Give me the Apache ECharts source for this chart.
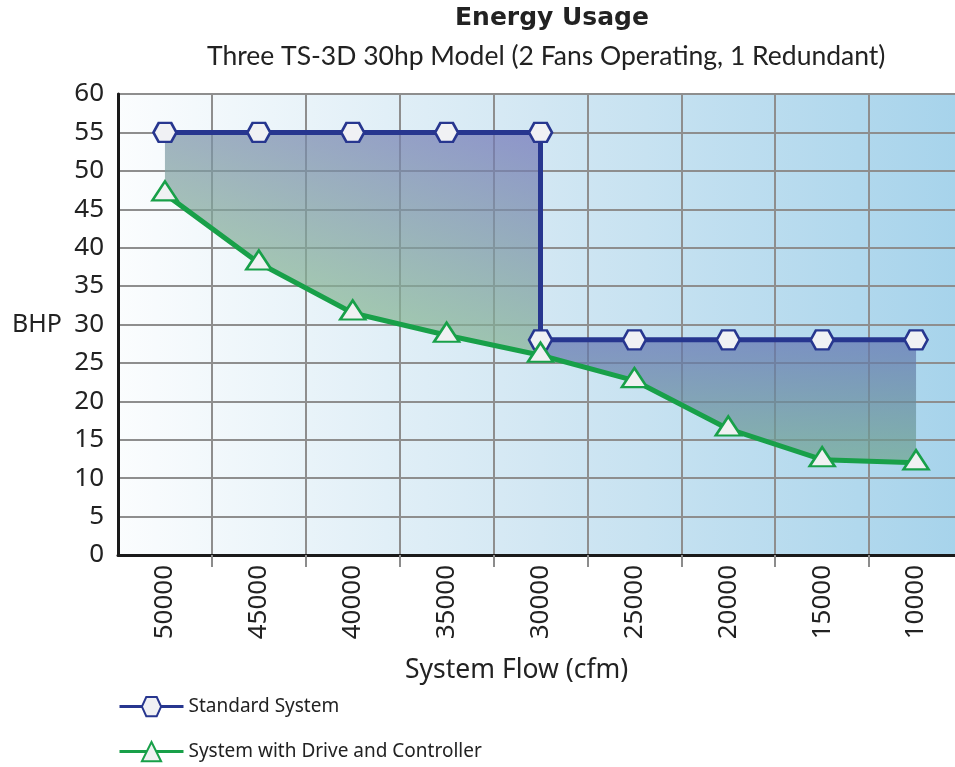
<!DOCTYPE html>
<html>
<head>
<meta charset="utf-8">
<script src="https://cdn.jsdelivr.net/npm/echarts@6/dist/echarts.min.js"></script>
<style>html,body{margin:0;padding:0;background:#fff}#c{width:955px;height:767px}</style>
</head>
<body>
<div id="c"></div>
<script>
const titleText = 'Energy Usage';
const subtitleText = 'Three TS-3D 30hp Model (2 Fans Operating, 1 Redundant)';
const yAxisName = 'BHP';
const xAxisName = 'System Flow (cfm)';
const seriesNames = ['Standard System', 'System with Drive and Controller'];

const flowStandard = [50000, 45000, 40000, 35000, 30000, 30000, 25000, 20000, 15000, 10000];
const bhpStandard  = [55, 55, 55, 55, 55, 28, 28, 28, 28, 28];
const flowDrive = [50000, 45000, 40000, 35000, 30000, 25000, 20000, 15000, 10000];
const bhpDrive  = [47, 38, 31.5, 28.6, 26, 22.7, 16.4, 12.4, 12];

const xLabelValues = [50000, 45000, 40000, 35000, 30000, 25000, 20000, 15000, 10000];
const xTickValues = [47500, 42500, 37500, 32500, 27500, 22500, 17500, 12500];

const stdData = flowStandard.map((f, i) => [f, bhpStandard[i]]);
const driveData = flowDrive.map((f, i) => [f, bhpDrive[i]]);
// region 1: 50000..30000, region 2: 30000..10000
const region1 = stdData.slice(0, 6).concat(driveData.slice(0, 5).reverse());
const region2 = stdData.slice(5).concat(driveData.slice(4).reverse());

const hexagon = 'path://M0,10 L5,0 L17,0 L22,10 L17,20 L5,20 Z';
const FONT = '"Noto Sans", sans-serif';

const legendBase = {
  orient: 'vertical', left: 118, padding: 0,
  itemWidth: 64, itemHeight: 24,
  lineStyle: {width: 3},
  textStyle: {fontSize: 19, color: '#222', fontFamily: FONT}
};

const chart = echarts.init(document.getElementById('c'), null, {renderer: 'canvas'});
chart.setOption({
  animation: false,
  grid: {
    left: 118, top: 94, width: 845, bottom: 212, show: true,
    outerBoundsMode: 'none', containLabel: false,
    borderColor: '#444', borderWidth: 1.5,
    backgroundColor: new echarts.graphic.LinearGradient(0, 0, 1, 0, [
      {offset: 0, color: '#fbfdfe'},
      {offset: 0.5, color: '#d2e7f3'},
      {offset: 1, color: '#a6d3eb'}
    ])
  },
  xAxis: {
    type: 'value', inverse: true, min: 7500, max: 52500, interval: 2500,
    axisLine: {show: true, onZero: false, lineStyle: {color: '#1a1a1a', width: 3}},
    axisTick: {show: true, customValues: xTickValues, length: 12, lineStyle: {color: '#8c8c8c', width: 2}},
    axisLabel: {customValues: xLabelValues, rotate: 90, margin: 10, fontSize: 26, color: '#222',
      fontFamily: FONT, formatter: v => String(v), hideOverlap: false},
    splitLine: {show: true, lineStyle: {color: '#8e8e8e', width: 2}}
  },
  yAxis: {
    type: 'value', min: 0, max: 60, interval: 5,
    name: yAxisName, nameLocation: 'middle', nameRotate: 0, nameGap: 56,
    nameTextStyle: {fontSize: 25, color: '#222', fontFamily: FONT, padding: [14, 0, 0, 0]},
    axisLine: {show: true, lineStyle: {color: '#1a1a1a', width: 3}},
    axisTick: {show: false},
    axisLabel: {fontSize: 26, color: '#222', margin: 14, fontFamily: FONT},
    splitLine: {show: true, lineStyle: {color: '#8e8e8e', width: 2}}
  },
  legend: [
    Object.assign({}, legendBase, {top: 696, data: [seriesNames[0]]}),
    Object.assign({}, legendBase, {top: 741, data: [seriesNames[1]]})
  ],
  graphic: [
    {type: 'text', left: 455, top: 6, style: {text: titleText, font: 'bold 25px "DejaVu Sans", sans-serif', fill: '#222'}},
    {type: 'text', left: 207, top: 43, style: {text: subtitleText, font: '26.5px Lato, sans-serif', fill: '#222'}},
    {type: 'text', left: 405, top: 657, style: {text: xAxisName, font: '26.5px "Noto Sans", sans-serif', fill: '#222'}}
  ],
  series: [
    {
      type: 'custom',
      silent: true,
      z: 1,
      data: [0],
      renderItem: function (params, api) {
        const p1 = region1.map(p => api.coord(p));
        const p2 = region2.map(p => api.coord(p));
        const tl = api.coord([50000, 55]);
        const tr = api.coord([30000, 55]);
        const bl = api.coord([50000, 40]);
        const a = 0.5 / (tr[0] - tl[0]);
        const b = -0.5 / (bl[1] - tl[1]);
        const d = a * a + b * b;
        const g1 = new echarts.graphic.LinearGradient(bl[0], bl[1], bl[0] + a / d, bl[1] + b / d, [
          {offset: 0, color: 'rgba(133,180,147,0.7)'},
          {offset: 1, color: 'rgba(112,114,185,0.7)'}
        ], true);
        const t2 = api.coord([20000, 28]);
        const b2 = api.coord([20000, 12]);
        const g2 = new echarts.graphic.LinearGradient(t2[0], t2[1], b2[0], b2[1], [
          {offset: 0, color: 'rgba(97,114,176,0.7)'},
          {offset: 1, color: 'rgba(110,165,140,0.7)'}
        ], true);
        return {
          type: 'group',
          children: [
            {type: 'polygon', shape: {points: p1}, style: {fill: g1}},
            {type: 'polygon', shape: {points: p2}, style: {fill: g2}}
          ]
        };
      }
    },
    {
      name: seriesNames[0], type: 'line', data: stdData, z: 3,
      symbol: hexagon, symbolSize: [23, 19],
      lineStyle: {color: '#27368f', width: 5},
      itemStyle: {color: '#f0f1f4', borderColor: '#27368f', borderWidth: 2.5}
    },
    {
      name: seriesNames[1], type: 'line', data: driveData, z: 4,
      symbol: 'triangle', symbolSize: [25, 19], symbolOffset: [0, -3],
      lineStyle: {color: '#18a049', width: 5},
      itemStyle: {color: '#f0f1f2', borderColor: '#18a049', borderWidth: 2.5}
    }
  ]
});
</script>
</body>
</html>
